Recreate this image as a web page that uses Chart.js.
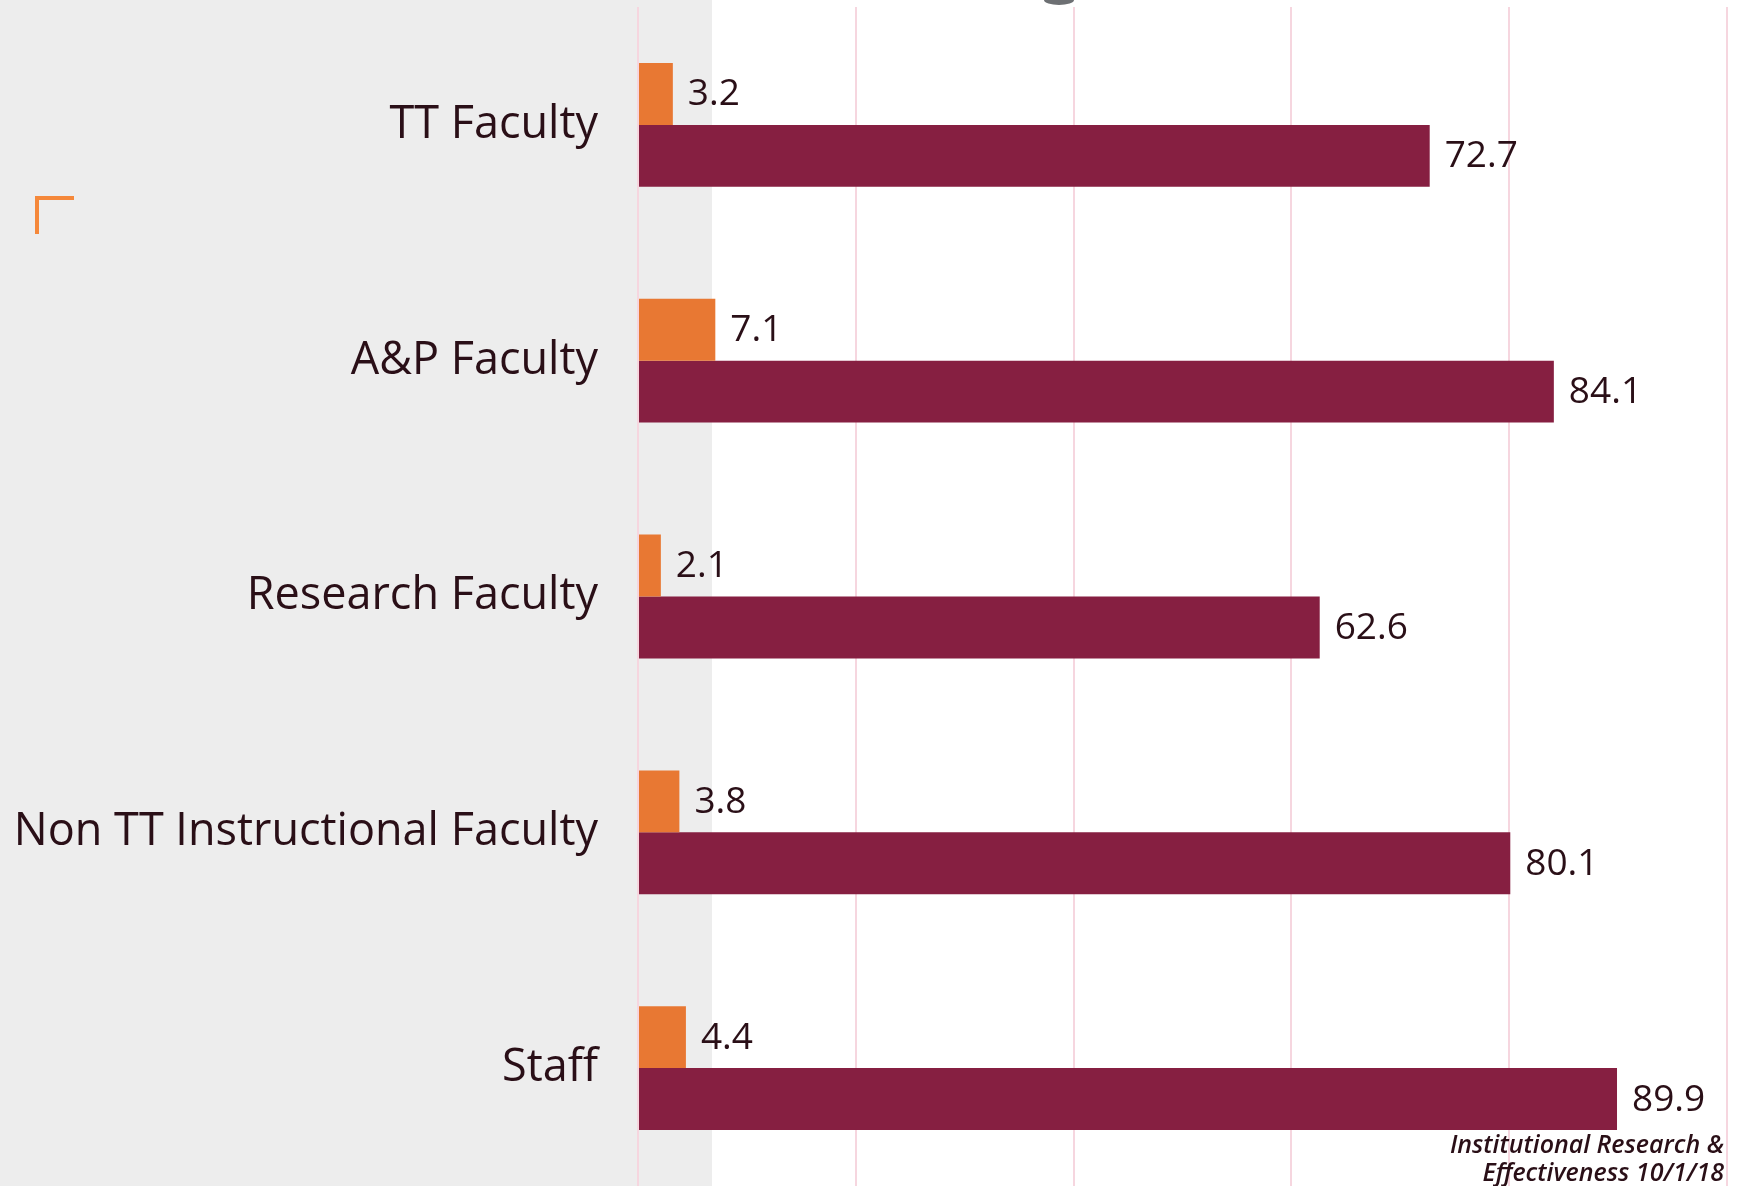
<!DOCTYPE html>
<html>
<head>
<meta charset="utf-8">
<script src="https://cdn.jsdelivr.net/npm/chart.js@4.4.0/dist/chart.umd.min.js"></script>
<style>
    html, body { margin: 0; padding: 0; background: #ffffff; }
    #wrap { position: relative; width: 1738px; height: 1186px; }
</style>
</head>
<body>
<div id="wrap"><canvas id="facultyChart" width="1738" height="1186"></canvas></div>
<script>
// Data
const categories = ["TT Faculty", "A&P Faculty", "Research Faculty", "Non TT Instructional Faculty", "Staff"];
const orangeValues = [3.2, 7.1, 2.1, 3.8, 4.4];
const maroonValues = [72.7, 84.1, 62.6, 80.1, 89.9];
const footerLines = ["Institutional Research &", "Effectiveness 10/1/18"];

const colors = {
    orange: "#e87833",
    maroon: "#861f41",
    text: "#2a0f17",
    grid: "#f6d6df",
    panel: "#ededed",
    mark: "#f5883a",
};
const fontFamily = "'Open Sans', sans-serif";

// slide background, corner mark and footer
const slideDecor = {
    id: "slideDecor",
    beforeDraw(chart) {
        const ctx = chart.ctx;
        ctx.save();
        ctx.fillStyle = colors.panel;
        ctx.fillRect(0, 0, 712, chart.height);
        ctx.strokeStyle = colors.mark;
        ctx.lineWidth = 4;
        ctx.beginPath();
        ctx.moveTo(37, 234);
        ctx.lineTo(37, 198);
        ctx.lineTo(74, 198);
        ctx.stroke();
        ctx.fillStyle = "#6d7073";
        ctx.beginPath();
        ctx.ellipse(1059, 0, 15, 5, 0, 0, Math.PI);
        ctx.fill();
        ctx.restore();
    },
    afterDraw(chart) {
        const ctx = chart.ctx;
        ctx.save();
        ctx.fillStyle = colors.text;
        ctx.font = "italic 600 25px " + fontFamily;
        ctx.textAlign = "right";
        ctx.textBaseline = "middle";
        ctx.fillText(footerLines[0], 1724, 1146);
        ctx.fillText(footerLines[1], 1724, 1174);
        ctx.restore();
    },
};

// value labels at the bar ends
const valueLabels = {
    id: "valueLabels",
    afterDatasetsDraw(chart) {
        const ctx = chart.ctx;
        ctx.save();
        ctx.fillStyle = colors.text;
        ctx.font = "37px " + fontFamily;
        ctx.textAlign = "left";
        ctx.textBaseline = "middle";
        chart.data.datasets.forEach((ds, i) => {
            chart.getDatasetMeta(i).data.forEach((bar, j) => {
                ctx.fillText(ds.data[j].toFixed(1), bar.x + 15, bar.y + 1);
            });
        });
        ctx.restore();
    },
};

const canvas = document.getElementById("facultyChart");
new Chart(canvas.getContext("2d"), {
    type: "bar",
    data: {
        labels: categories,
        datasets: [
            {
                data: orangeValues,
                backgroundColor: colors.orange,
                borderWidth: 0,
            },
            {
                data: maroonValues,
                backgroundColor: colors.maroon,
                borderWidth: 0,
            },
        ],
    },
    options: {
        indexAxis: "y",
        responsive: false,
        animation: false,
        maintainAspectRatio: false,
        barPercentage: 1,
        categoryPercentage: 0.525,
        layout: {
            padding: { top: 7, right: 11, bottom: 0, left: 0 },
        },
        plugins: {
            legend: { display: false },
            tooltip: { enabled: false },
        },
        scales: {
            x: {
                min: 0,
                max: 100,
                ticks: { display: false, stepSize: 20 },
                grid: { color: colors.grid, lineWidth: 2, drawTicks: false },
                border: { display: false },
                afterFit(scale) {
                    scale.height = 0;
                    scale.paddingLeft = 0;
                    scale.paddingRight = 0;
                },
            },
            y: {
                grid: { display: false, drawTicks: false },
                border: { display: false },
                ticks: {
                    color: colors.text,
                    padding: 40,
                    font: { size: 45, family: fontFamily },
                },
                afterFit(scale) {
                    scale.width = 638;
                    scale.paddingTop = 0;
                    scale.paddingBottom = 0;
                },
            },
        },
    },
    plugins: [slideDecor, valueLabels],
});
</script>
</body>
</html>
